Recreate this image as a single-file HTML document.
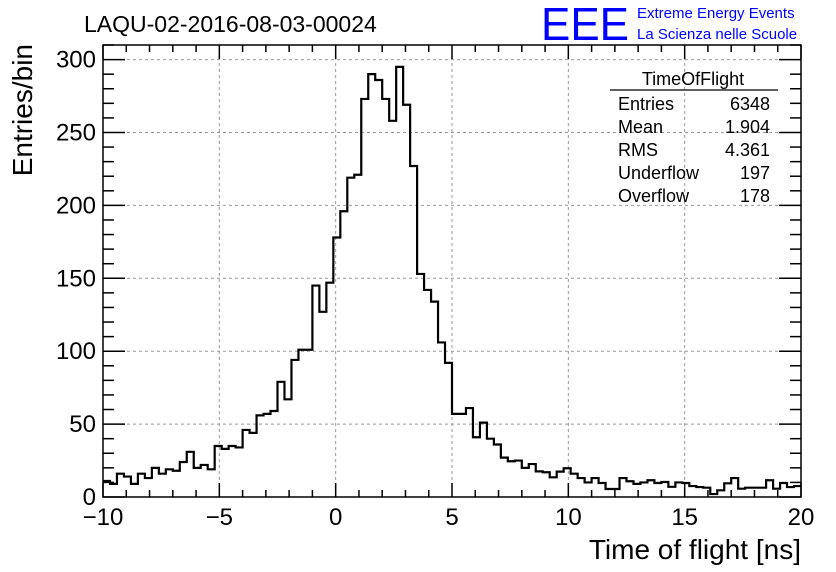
<!DOCTYPE html>
<html><head><meta charset="utf-8"><style>
body{margin:0;background:#fff;}
svg{display:block;font-family:"Liberation Sans",sans-serif;}
</style></head><body>
<svg id="c" width="836" height="572" viewBox="0 0 836 572">
<rect width="836" height="572" fill="#fff"/>
<text x="84" y="32" font-size="23">LAQU-02-2016-08-03-00024</text>
<g>
<text x="541" y="40" font-size="46" fill="#0000ff" textLength="88" lengthAdjust="spacingAndGlyphs">EEE</text>
<text x="637" y="18" font-size="15" fill="#0000ff">Extreme Energy Events</text>
<text x="637" y="39" font-size="15" fill="#0000ff">La Scienza nelle Scuole</text>
</g>
<g id="grid"></g>
<g id="axes"></g>
<path id="hist" fill="none" stroke="#000" stroke-width="2.2"/>
<rect x="103" y="45" width="698" height="452" fill="none" stroke="#000" stroke-width="1.5"/>
<g font-size="18">
<text x="693" y="85" text-anchor="middle">TimeOfFlight</text>
<line x1="610" y1="90" x2="778" y2="90" stroke="#000" stroke-width="1.2"/>
<text x="618" y="110">Entries</text><text x="770" y="110" text-anchor="end">6348</text>
<text x="618" y="133">Mean</text><text x="770" y="133" text-anchor="end">1.904</text>
<text x="618" y="156">RMS</text><text x="770" y="156" text-anchor="end">4.361</text>
<text x="618" y="179">Underflow</text><text x="770" y="179" text-anchor="end">197</text>
<text x="618" y="202">Overflow</text><text x="770" y="202" text-anchor="end">178</text>
</g>
<text x="10" y="44" font-size="28" text-anchor="end" transform="rotate(-90 10 44)" dy="22">Entries/bin</text>
<text x="801" y="559" font-size="28" text-anchor="end">Time of flight [ns]</text>
</svg>
<script>
const counts = [11,9,16,14,9,16,13,20,16,19,18,24,31,20,22,19,35,33,35,34,46,44,56,57,59,79,67,94,101,101,
145,127,147,178,196,219,221,273,290,286,273,258,295,269,227,153,142,134,106,92,57,57,61,41,51,40,36,27,24.5,25,
20,22.6,17.6,17,13.5,17.4,19.7,16,13,10,13,9.6,5.5,5.5,13,10.8,9,10,11.5,9.6,10.3,7,10,9.6,7.5,6.8,6.4,2,4.6,9.4,
13,5.7,6.4,6.4,6.4,11.5,5.7,9.6,6.8,7.5];
const xMin = -10, xMax = 20;
const yMax = 310;
const xTicks = [-10,-5,0,5,10,15,20];
const yTicks = [0,50,100,150,200,250,300];
const NS='http://www.w3.org/2000/svg';
const X0=103,X1=801,Y0=497,YT=45;
const sx=v=>X0+(v-xMin)/(xMax-xMin)*(X1-X0);
const sy=v=>Y0-v/yMax*(Y0-YT);
function mk(tag,attrs,parent){const e=document.createElementNS(NS,tag);for(const k in attrs)e.setAttribute(k,attrs[k]);parent.appendChild(e);return e;}
const grid=document.getElementById('grid'),axes=document.getElementById('axes');
xTicks.forEach(t=>{
 if(t>xMin&&t<xMax){const l=mk('line',{x1:sx(t),x2:sx(t),y1:YT,y2:Y0,stroke:'#999','stroke-dasharray':'3,3','stroke-width':1},grid);
 
 }
 const tx=mk('text',{x:sx(t),y:525,'font-size':24,'text-anchor':'middle'},axes);
 tx.textContent=t<0?'\u2212'+(-t):String(t);
 
 
});
yTicks.forEach(t=>{
 if(t>0){const l=mk('line',{x1:X0,x2:X1,y1:sy(t),y2:sy(t),stroke:'#999','stroke-dasharray':'3,3','stroke-width':1},grid);
 
 }
 const tx=mk('text',{x:96,y:sy(t)+8,'font-size':24,'text-anchor':'end'},axes);
 tx.textContent=String(t);
 
 
});
for(let v=xMin;v<=xMax;v++){const L=(v%5===0)?14:7;
 mk('line',{x1:sx(v),x2:sx(v),y1:Y0,y2:Y0-L,stroke:'#000','stroke-width':1.5},axes);
 mk('line',{x1:sx(v),x2:sx(v),y1:YT,y2:YT+L,stroke:'#000','stroke-width':1.5},axes);}
for(let v=0;v<=yMax;v+=10){const L=(v%50===0)?22:11;
 mk('line',{x1:X0,x2:X0+L,y1:sy(v),y2:sy(v),stroke:'#000','stroke-width':1.5},axes);
 mk('line',{x1:X1,x2:X1-L,y1:sy(v),y2:sy(v),stroke:'#000','stroke-width':1.5},axes);}
const bw=(xMax-xMin)/counts.length;
let d='M'+sx(xMin)+','+sy(counts[0]);
counts.forEach((c,i)=>{const a=xMin+i*bw,b=a+bw;
 if(i>0)d+=' L'+sx(a)+','+sy(c);
 d+=' L'+sx(b)+','+sy(c);});
document.getElementById('hist').setAttribute('d',d);
</script>
</body></html>
